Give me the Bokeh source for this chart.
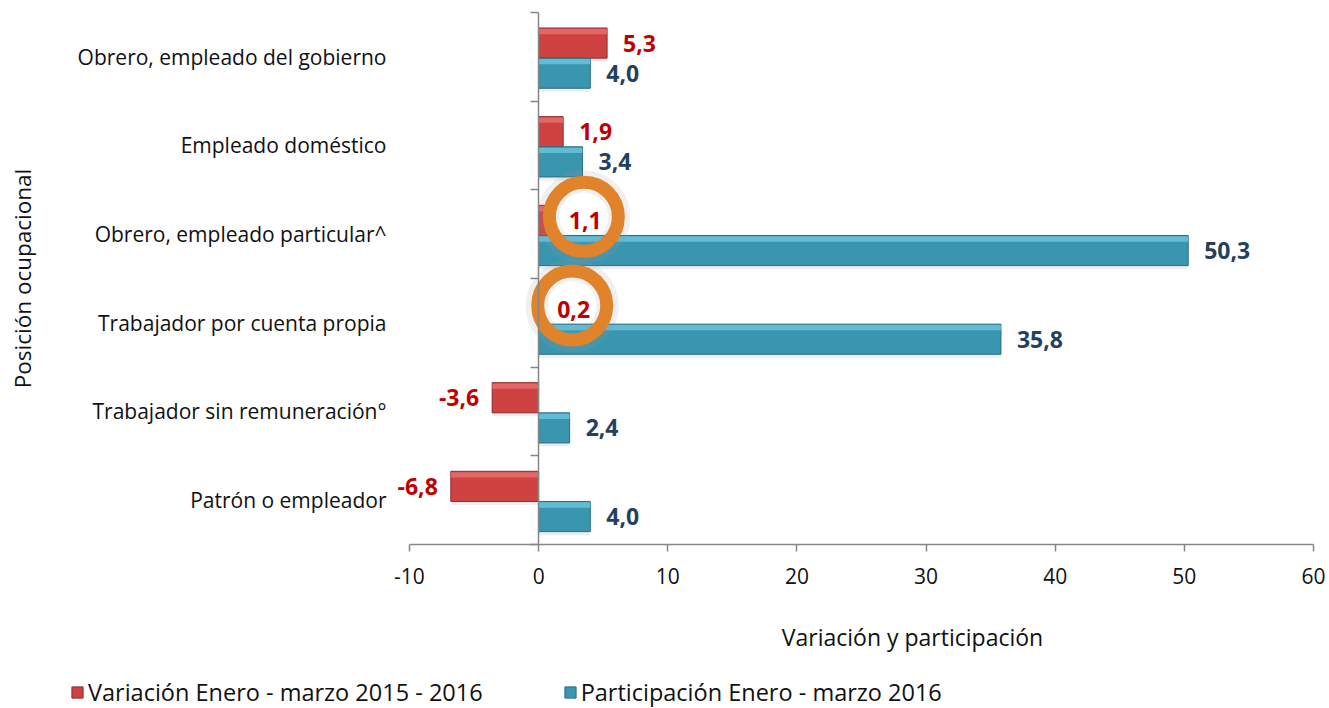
from math import pi
from bokeh.plotting import figure
from bokeh.models import (ColumnDataSource, Range1d, Label, LinearAxis,
                          Legend, LegendItem, FixedTicker)
from bokeh.transform import dodge
from bokeh.core.properties import value
from bokeh.embed import file_html
from bokeh.resources import INLINE

# ---- data (bottom to top) ----
categories = ["Patrón o empleador", "Trabajador sin remuneración°",
              "Trabajador por cuenta propia", "Obrero, empleado particular^",
              "Empleado doméstico", "Obrero, empleado del gobierno"]
variacion = [-6.8, -3.6, 0.2, 1.1, 1.9, 5.3]
participacion = [4.0, 2.4, 35.8, 50.3, 3.4, 4.0]
x_ticks = [-10, 0, 10, 20, 30, 40, 50, 60]
highlighted = ["Obrero, empleado particular^", "Trabajador por cuenta propia"]
series_names = ["Variación Enero - marzo 2015 - 2016", "Participación Enero - marzo 2016"]
x_title = "Variación y participación"
y_title = "Posición ocupacional"

FONT = "Open Sans"
RED, RED_HI, RED_LN = "#CF4242", "#E67070", "#8E2B2B"
BLUE, BLUE_HI, BLUE_LN = "#3A95AF", "#6CC6DE", "#2A6E81"
AXIS = "#868686"
TXT = "#111111"

def fmt(v):
    return f"{v:.1f}".replace(".", ",")

n = len(categories)
pos = list(range(n))
src = ColumnDataSource(dict(pos=pos, var=variacion, par=participacion,
                            par_lbl=[fmt(v) for v in participacion]))
pos_idx = [i for i, v in enumerate(variacion) if v >= 0]
neg_idx = [i for i, v in enumerate(variacion) if v < 0]
src_vpos = ColumnDataSource(dict(pos=pos_idx, var=[variacion[i] for i in pos_idx],
                                 lbl=[fmt(variacion[i]) for i in pos_idx]))
src_vneg = ColumnDataSource(dict(pos=neg_idx, var=[variacion[i] for i in neg_idx],
                                 lbl=[fmt(variacion[i]) for i in neg_idx]))
hl_pos = [categories.index(c) for c in highlighted]
src_hl = ColumnDataSource(dict(pos=hl_pos, x=[variacion[i] + 2.4 for i in hl_pos]))

# the frame covers the whole canvas; axes are pinned inside it
p = figure(width=1329, height=708, x_range=Range1d(-41.67, 61.24),
           y_range=Range1d(-2.35, n - 0.5 + 0.135), min_border=0,
           output_backend="svg", toolbar_location=None)
p.xgrid.visible = False
p.ygrid.visible = False
p.outline_line_color = None

RED_OFF, BLUE_OFF, H = 0.155, -0.185, 0.34

# soft shadows
p.hbar(y=dodge("pos", RED_OFF - 0.04), left=0, right="var", height=H,
       source=src, fill_color="#000000", fill_alpha=0.07, line_color=None)
p.hbar(y=dodge("pos", BLUE_OFF - 0.04), left=0, right="par", height=H,
       source=src, fill_color="#000000", fill_alpha=0.07, line_color=None)
# bars
r_red = p.hbar(y=dodge("pos", RED_OFF), left=0, right="var", height=H,
               source=src, fill_color=RED, line_color=RED_LN, line_width=1)
r_blue = p.hbar(y=dodge("pos", BLUE_OFF), left=0, right="par", height=H,
                source=src, fill_color=BLUE, line_color=BLUE_LN, line_width=1)
# bevel highlights
p.hbar(y=dodge("pos", RED_OFF + H / 2 - 0.04), left=0, right="var",
       height=0.06, source=src, fill_color=RED_HI, line_color=None, fill_alpha=0.8)
p.hbar(y=dodge("pos", BLUE_OFF + H / 2 - 0.04), left=0, right="par",
       height=0.06, source=src, fill_color=BLUE_HI, line_color=None, fill_alpha=0.8)

# value labels
LBL = dict(text_baseline="middle", text_font=value(FONT), text_font_style="bold",
           text_font_size="23px")
p.text(x="var", y=dodge("pos", RED_OFF), text="lbl", source=src_vpos,
       x_offset=16, text_align="left", text_color="#C00000", **LBL)
p.text(x="var", y=dodge("pos", RED_OFF), text="lbl", source=src_vneg,
       x_offset=-13, text_align="right", text_color="#C00000", **LBL)
p.text(x="par", y=dodge("pos", BLUE_OFF), text="par_lbl", source=src,
       x_offset=16, text_align="left", text_color="#243F60", **LBL)

# highlight circles
p.scatter(x="x", y=dodge("pos", RED_OFF + 0.04), source=src_hl,
          marker="circle", size=71, fill_alpha=0, line_color="#999999",
          line_width=22, line_alpha=0.15)
p.scatter(x="x", y=dodge("pos", RED_OFF + 0.04), source=src_hl,
          marker="circle", size=69, fill_alpha=0, line_color="#E0832A", line_width=13)

# x axis pinned at the bottom of the category block
xa = p.xaxis[0]
xa.fixed_location = -0.5
xa.bounds = (x_ticks[0], x_ticks[-1])
xa.ticker = FixedTicker(ticks=x_ticks)
xa.major_label_overrides = {t: str(t) for t in x_ticks}
xa.axis_line_color = AXIS
xa.axis_line_width = 1.5
xa.major_tick_line_color = AXIS
xa.major_tick_line_width = 1.5
xa.major_tick_out = 7
xa.major_tick_in = 0
xa.minor_tick_line_color = None
xa.major_label_text_font = FONT
xa.major_label_text_font_size = "21px"
xa.major_label_text_color = TXT
xa.major_label_standoff = 17

# category axis pinned at x = -10
ya = p.yaxis[0]
ya.fixed_location = x_ticks[0]
ya.bounds = (-0.5, n - 0.5)
ya.ticker = FixedTicker(ticks=pos)
ya.major_label_overrides = {i: c for i, c in zip(pos, categories)}
ya.axis_line_color = None
ya.major_tick_line_color = None
ya.minor_tick_line_color = None
ya.major_label_text_font = FONT
ya.major_label_text_font_size = "21px"
ya.major_label_text_color = TXT
ya.major_label_standoff = 17
ya.axis_label = y_title
ya.axis_label_text_font = FONT
ya.axis_label_text_font_size = "22.5px"
ya.axis_label_text_font_style = "normal"
ya.axis_label_text_color = TXT
ya.axis_label_standoff = 37

# zero axis with ticks between categories
za = LinearAxis(fixed_location=0, bounds=(-0.5, n - 0.5),
                ticker=FixedTicker(ticks=[i - 0.5 for i in range(n + 1)]),
                axis_line_color=AXIS, axis_line_width=1.5,
                major_tick_line_color=AXIS, major_tick_line_width=1.5,
                major_tick_out=8, major_tick_in=0, minor_tick_line_color=None,
                major_label_text_alpha=0, major_label_text_font_size="1px")
p.add_layout(za, "left")

p.add_layout(Label(x=28.95, y=-1.54, text=x_title, text_font=FONT,
                   text_font_size="23px", text_color=TXT,
                   text_align="center", text_baseline="middle"))

legend = Legend(items=[LegendItem(label=series_names[0], renderers=[r_red]),
                       LegendItem(label=series_names[1], renderers=[r_blue])],
                orientation="horizontal", location=(70, 0),
                border_line_color=None, background_fill_alpha=0,
                padding=0, margin=0, spacing=80, glyph_width=14, glyph_height=14,
                label_standoff=4, label_height=20,
                label_text_font=FONT, label_text_font_size="23.5px",
                label_text_color=TXT)
p.add_layout(legend)

open("out.html", "w").write(file_html(p, INLINE))
